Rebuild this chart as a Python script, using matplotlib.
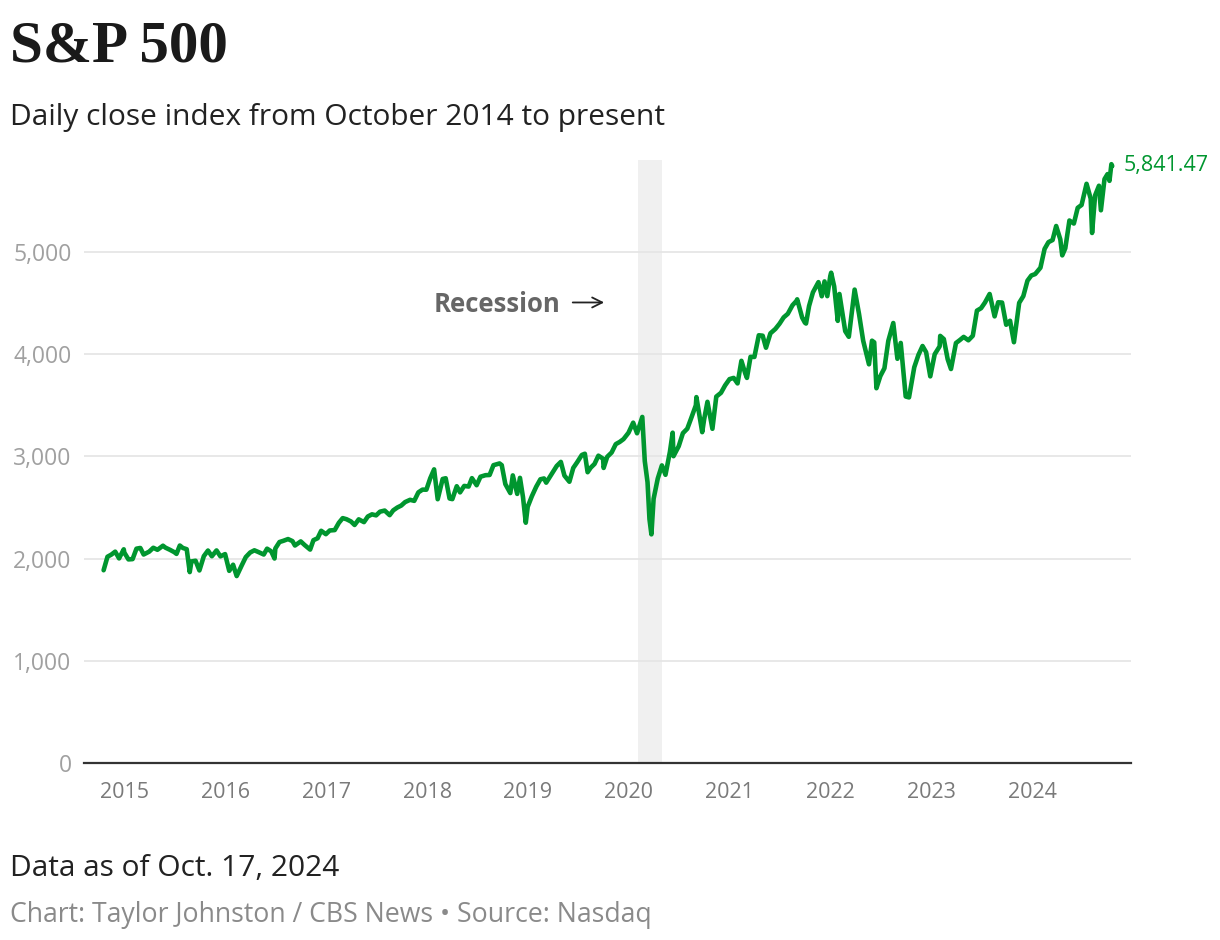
import matplotlib
matplotlib.use("Agg")
import matplotlib.pyplot as plt
import pandas as pd

# S&P 500 closes (roughly twice a month plus the big swings)
dates = [
    "2014-10-17", "2014-10-31", "2014-11-14", "2014-11-28", "2014-12-12", "2014-12-29", "2014-12-31",
    "2015-01-15", "2015-01-30", "2015-02-13", "2015-02-27", "2015-03-11", "2015-03-31", "2015-04-15",
    "2015-04-30", "2015-05-20", "2015-05-29", "2015-06-15", "2015-06-30", "2015-07-08", "2015-07-20",
    "2015-07-31", "2015-08-14", "2015-08-25", "2015-08-31", "2015-09-15", "2015-09-29", "2015-10-15",
    "2015-10-30", "2015-11-13", "2015-11-30", "2015-12-14", "2015-12-31",
    "2016-01-15", "2016-01-29", "2016-02-11", "2016-02-29", "2016-03-15", "2016-03-31", "2016-04-15",
    "2016-04-29", "2016-05-19", "2016-05-31", "2016-06-15", "2016-06-27", "2016-06-30", "2016-07-15",
    "2016-07-29", "2016-08-15", "2016-08-31", "2016-09-09", "2016-09-30", "2016-10-14", "2016-11-03",
    "2016-11-15", "2016-11-30", "2016-12-13", "2016-12-30",
    "2017-01-13", "2017-01-31", "2017-02-15", "2017-03-01", "2017-03-15", "2017-03-31", "2017-04-13",
    "2017-04-28", "2017-05-17", "2017-05-31", "2017-06-15", "2017-06-30", "2017-07-14", "2017-07-31",
    "2017-08-18", "2017-08-31", "2017-09-15", "2017-09-29", "2017-10-13", "2017-10-31", "2017-11-15",
    "2017-11-30", "2017-12-15", "2017-12-29",
    "2018-01-12", "2018-01-26", "2018-02-08", "2018-02-26", "2018-03-09", "2018-03-23", "2018-04-02",
    "2018-04-18", "2018-04-30", "2018-05-15", "2018-05-31", "2018-06-12", "2018-06-29", "2018-07-13",
    "2018-07-31", "2018-08-15", "2018-08-29", "2018-09-20", "2018-09-28", "2018-10-11", "2018-10-29",
    "2018-11-07", "2018-11-23", "2018-12-03", "2018-12-14", "2018-12-24", "2018-12-31",
    "2019-01-15", "2019-01-31", "2019-02-15", "2019-02-28", "2019-03-08", "2019-03-29", "2019-04-15",
    "2019-04-30", "2019-05-13", "2019-05-31", "2019-06-14", "2019-06-28", "2019-07-15", "2019-07-26",
    "2019-08-05", "2019-08-16", "2019-08-30", "2019-09-13", "2019-09-30", "2019-10-02", "2019-10-15",
    "2019-10-31", "2019-11-15", "2019-11-29", "2019-12-13", "2019-12-31",
    "2020-01-17", "2020-01-31", "2020-02-19", "2020-02-28", "2020-03-09", "2020-03-16", "2020-03-23",
    "2020-03-31", "2020-04-15", "2020-04-30", "2020-05-13", "2020-05-29", "2020-06-08", "2020-06-11",
    "2020-06-30", "2020-07-15", "2020-07-31", "2020-08-14", "2020-08-31", "2020-09-02", "2020-09-23",
    "2020-09-30", "2020-10-12", "2020-10-30", "2020-11-13", "2020-11-30", "2020-12-15", "2020-12-31",
    "2021-01-15", "2021-01-29", "2021-02-12", "2021-02-26", "2021-03-04", "2021-03-17", "2021-03-31",
    "2021-04-16", "2021-04-30", "2021-05-12", "2021-05-28", "2021-06-15", "2021-06-30", "2021-07-15",
    "2021-07-30", "2021-08-16", "2021-08-31", "2021-09-02", "2021-09-20", "2021-09-30", "2021-10-04",
    "2021-10-15", "2021-10-29", "2021-11-18", "2021-11-30", "2021-12-10", "2021-12-20", "2021-12-31",
    "2022-01-03", "2022-01-14", "2022-01-27", "2022-02-02", "2022-02-23", "2022-03-08", "2022-03-29",
    "2022-04-14", "2022-04-29", "2022-05-20", "2022-05-31", "2022-06-08", "2022-06-16", "2022-06-30",
    "2022-07-15", "2022-07-29", "2022-08-16", "2022-08-31", "2022-09-12", "2022-09-30", "2022-10-12",
    "2022-10-31", "2022-11-15", "2022-11-30", "2022-12-13", "2022-12-28",
    "2023-01-13", "2023-01-31", "2023-02-02", "2023-02-15", "2023-03-01", "2023-03-13", "2023-03-31",
    "2023-04-14", "2023-04-28", "2023-05-15", "2023-05-31", "2023-06-15", "2023-06-30", "2023-07-14",
    "2023-07-31", "2023-08-18", "2023-08-31", "2023-09-14", "2023-09-29", "2023-10-13", "2023-10-27",
    "2023-11-15", "2023-11-30", "2023-12-15", "2023-12-29",
    "2024-01-12", "2024-01-31", "2024-02-15", "2024-02-29", "2024-03-15", "2024-03-28", "2024-04-12",
    "2024-04-19", "2024-04-30", "2024-05-15", "2024-05-31", "2024-06-14", "2024-06-28", "2024-07-16",
    "2024-07-31", "2024-08-05", "2024-08-16", "2024-08-30", "2024-09-06", "2024-09-19", "2024-09-30",
    "2024-10-07", "2024-10-14", "2024-10-17",
]
closes = [
    1886, 2018, 2039, 2068, 2002, 2091, 2059,
    1992, 1995, 2097, 2104, 2040, 2068, 2106,
    2086, 2126, 2107, 2085, 2063, 2046, 2128,
    2104, 2092, 1868, 1972, 1979, 1884, 2024,
    2079, 2023, 2080, 2022, 2044,
    1880, 1940, 1829, 1932, 2015, 2060, 2081,
    2065, 2040, 2097, 2071, 2001, 2099, 2162,
    2174, 2191, 2171, 2128, 2168, 2133, 2088,
    2180, 2199, 2272, 2239,
    2275, 2279, 2350, 2396, 2385, 2363, 2329,
    2384, 2357, 2412, 2433, 2423, 2459, 2470,
    2425, 2472, 2500, 2519, 2553, 2575, 2565,
    2648, 2675, 2674,
    2786, 2873, 2581, 2779, 2786, 2588, 2582,
    2708, 2648, 2711, 2705, 2787, 2718, 2801,
    2816, 2818, 2914, 2931, 2914, 2729, 2641,
    2814, 2633, 2790, 2600, 2351, 2507,
    2610, 2704, 2776, 2784, 2743, 2834, 2906,
    2946, 2812, 2752, 2887, 2942, 3014, 3026,
    2845, 2889, 2926, 3007, 2977, 2887, 2996,
    3038, 3120, 3141, 3169, 3231,
    3330, 3226, 3386, 2954, 2747, 2386, 2237,
    2585, 2783, 2912, 2820, 3044, 3232, 3002,
    3100, 3227, 3271, 3373, 3500, 3580, 3237,
    3363, 3534, 3270, 3585, 3622, 3695, 3756,
    3768, 3714, 3935, 3811, 3768, 3974, 3973,
    4185, 4181, 4063, 4204, 4247, 4298, 4360,
    4395, 4479, 4523, 4537, 4358, 4308, 4300,
    4471, 4605, 4705, 4567, 4712, 4568, 4766,
    4797, 4663, 4326, 4589, 4225, 4170, 4632,
    4393, 4132, 3901, 4132, 4116, 3667, 3785,
    3863, 4130, 4305, 3955, 4110, 3586, 3577,
    3872, 3992, 4080, 4019, 3783,
    3999, 4077, 4179, 4148, 3951, 3855, 4109,
    4138, 4169, 4136, 4180, 4426, 4450, 4505,
    4589, 4370, 4508, 4505, 4288, 4327, 4117,
    4502, 4568, 4719, 4770,
    4784, 4846, 5030, 5096, 5117, 5254, 5123,
    4967, 5036, 5308, 5278, 5432, 5460, 5667,
    5522, 5186, 5554, 5648, 5408, 5713, 5762,
    5696, 5859, 5841.47,
]
recession = ["2020-02-05", "2020-04-30"]
yticks = [0, 1000, 2000, 3000, 4000, 5000]
years = [2015, 2016, 2017, 2018, 2019, 2020, 2021, 2022, 2023, 2024]

green = "#00962f"
sans = ["Open Sans", "DejaVu Sans"]

df = pd.DataFrame({"date": pd.to_datetime(dates), "close": closes})

fig = plt.figure(figsize=(12.2, 9.4), dpi=100)
ax = fig.add_axes([84 / 1220, 1 - 763 / 940, (1131 - 84) / 1220, (763 - 160) / 940])

ax.axvspan(pd.Timestamp(recession[0]), pd.Timestamp(recession[1]), color="#f0f0f0", lw=0, zorder=0)
ax.plot(df["date"], df["close"], color=green, lw=3.3, solid_joinstyle="round",
        solid_capstyle="round", zorder=3)

ax.set_xlim(pd.Timestamp("2014-08-07"), pd.Timestamp("2024-12-24"))
ax.set_ylim(0, 5900)

ax.set_yticks(yticks)
ax.set_yticklabels([f"{v:,}" for v in yticks], fontsize=16.5, color="#a0a0a0", family=sans)
ax.set_xticks([pd.Timestamp(f"{y}-01-01") for y in years])
ax.set_xticklabels([str(y) for y in years], fontsize=15.5, color="#7a7a7a", family=sans)
ax.tick_params(axis="both", length=0)
ax.tick_params(axis="y", pad=9)
ax.tick_params(axis="x", pad=14)

ax.grid(axis="y", color="#e4e4e4", lw=1.2)
ax.grid(axis="x", visible=False)
for s in ["top", "right", "left"]:
    ax.spines[s].set_visible(False)
ax.spines["bottom"].set_color("#333333")
ax.spines["bottom"].set_linewidth(1.6)
ax.spines["bottom"].set_zorder(4)

# last value label
last = df.iloc[-1]
ax.annotate(f"{last['close']:,.2f}", xy=(last["date"], last["close"]), xytext=(8, 0),
            textcoords="offset points", va="center", ha="left", fontsize=15.5,
            color=green, family=sans, annotation_clip=False)

# recession note
ax.text(pd.Timestamp("2019-04-27"), 4413, "Recession", ha="right", va="baseline",
        fontsize=18.5, fontweight="bold", color="#666666", family=sans)
ax.annotate("", xy=(pd.Timestamp("2019-10-14"), 4506), xytext=(pd.Timestamp("2019-06-02"), 4506),
            arrowprops=dict(arrowstyle="->", color="#222222", lw=1.3, mutation_scale=18))

fig.text(10 / 1220, 1 - 48 / 940, "S&P 500", fontsize=42.5, fontweight="bold",
         family=["Liberation Serif", "DejaVu Serif"], color="#1a1a1a", va="center", ha="left")
fig.text(10 / 1220, 1 - 118 / 940, "Daily close index from October 2014 to present",
         fontsize=21.5, family=sans, color="#222222", va="center", ha="left")
fig.text(10 / 1220, 1 - 869 / 940, "Data as of Oct. 17, 2024",
         fontsize=21.5, family=sans, color="#222222", va="center", ha="left")
fig.text(10 / 1220, 1 - 915 / 940, "Chart: Taylor Johnston / CBS News \u2022 Source: Nasdaq",
         fontsize=19.2, family=sans, color="#8a8a8a", va="center", ha="left")

fig.savefig("out.png", dpi=100, facecolor="white")
